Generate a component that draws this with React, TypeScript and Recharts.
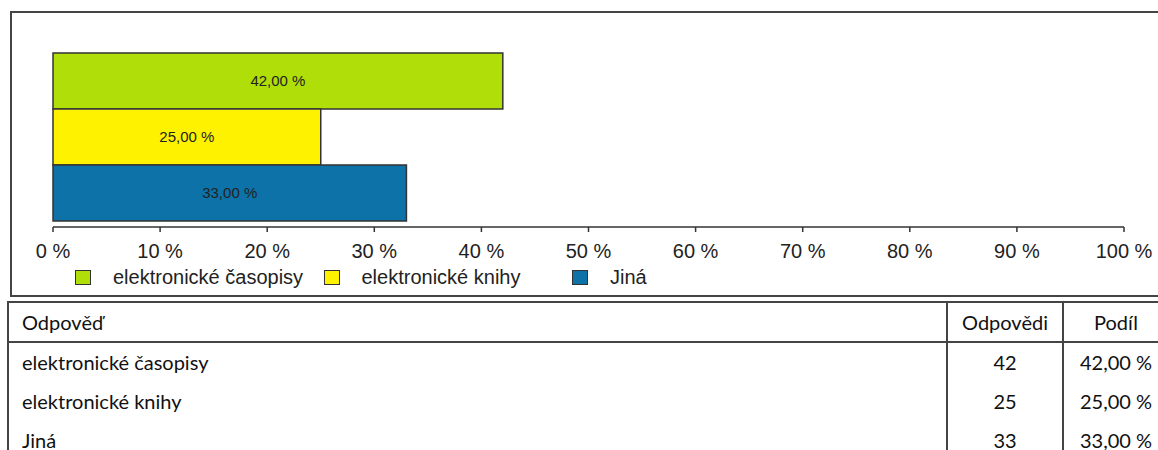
import { Bar, BarChart, LabelList, XAxis, YAxis } from "recharts"

const categories = ["elektronické časopisy", "elektronické knihy", "Jiná"]
const counts = [42, 25, 33]
const shares = [42, 25, 33]
const colors = ["#b0de09", "#fff200", "#0d72a8"]
const xTicks = [0, 10, 20, 30, 40, 50, 60, 70, 80, 90, 100]
const headers = ["Odpověď", "Odpovědi", "Podíl"]

const fmtPct = (v: number) => `${v.toFixed(2).replace(".", ",")} %`

// one category row, one key per answer
const chartData = [
  categories.reduce<Record<string, number | string>>(
    (row, _c, i) => {
      row[`s${i}`] = shares[i]
      return row
    },
    { name: "" }
  ),
]

const sansChart = "'Liberation Sans', Arial, Helvetica, sans-serif"
const sansTable = "Lato, 'Open Sans', sans-serif"

export default function App() {
  return (
    <div
      style={{
        position: "absolute",
        left: 0,
        top: 0,
        width: 1158,
        height: 450,
        overflow: "hidden",
        background: "#fff",
      }}
    >
      {/* chart frame */}
      <div
        style={{
          position: "absolute",
          left: 10,
          top: 11,
          width: 1200,
          height: 284,
          border: "2px solid #444",
          boxSizing: "border-box",
          borderRight: "none",
          height: 286,
        }}
      />
      <div style={{ position: "absolute", left: 0, top: 0, fontFamily: sansChart }}>
        <BarChart
          width={1158}
          height={296}
          data={chartData}
          layout="vertical"
          margin={{ top: 53, right: 34, bottom: 29, left: 53 }}
          barCategoryGap={0}
          barGap={0}
        >
          <XAxis
            type="number"
            domain={[0, 100]}
            ticks={xTicks}
            interval={0}
            height={40}
            tickFormatter={(v: number) => `${v} %`}
            tickSize={5}
            tickMargin={12}
            axisLine={{ stroke: "#333", strokeWidth: 1.5 }}
            tickLine={{ stroke: "#333", strokeWidth: 1.5 }}
            tick={{ fill: "#222", fontSize: 20 }}
          />
          <YAxis type="category" dataKey="name" hide padding={{ top: 0, bottom: 7 }} />
          {categories.map((c, i) => (
            <Bar
              key={c}
              dataKey={`s${i}`}
              name={c}
              fill={colors[i]}
              stroke="#333"
              strokeWidth={1.5}
              isAnimationActive={false}
            >
              <LabelList
                dataKey={`s${i}`}
                position="center"
                formatter={(v: number) => fmtPct(v)}
                fill="#222"
                fontSize={15}
              />
            </Bar>
          ))}
        </BarChart>
      </div>

      {/* legend */}
      <div
        style={{
          position: "absolute",
          left: 75,
          top: 266,
          display: "flex",
          fontFamily: sansChart,
          fontSize: 20,
          color: "#222",
          lineHeight: "22px",
        }}
      >
        {categories.map((c, i) => (
          <div key={c} style={{ width: 248.5, display: "flex", alignItems: "center" }}>
            <span
              style={{
                display: "inline-block",
                width: 16,
                height: 15,
                background: colors[i],
                border: "1.5px solid #333",
                boxSizing: "border-box",
                marginRight: 22,
              }}
            />
            <span>{c}</span>
          </div>
        ))}
      </div>

      {/* table */}
      <div
        style={{
          position: "absolute",
          left: 7,
          top: 301,
          width: 1220,
          height: 200,
          borderTop: "2px solid #444",
          borderLeft: "2px solid #444",
          fontFamily: sansTable,
          fontSize: 20,
          color: "#111",
        }}
      >
        <div style={{ position: "absolute", left: 0, top: 38, width: 1220, height: 2, background: "#444" }} />
        <div style={{ position: "absolute", left: 937, top: 0, width: 2, height: 200, background: "#444" }} />
        <div style={{ position: "absolute", left: 1053, top: 0, width: 2, height: 200, background: "#444" }} />
        <div style={{ position: "absolute", left: 13, top: 0, lineHeight: "38px" }}>{headers[0]}</div>
        <div style={{ position: "absolute", left: 939, width: 114, top: 0, lineHeight: "38px", textAlign: "center" }}>
          {headers[1]}
        </div>
        <div style={{ position: "absolute", left: 1055, width: 104, top: 0, lineHeight: "38px", textAlign: "center" }}>
          {headers[2]}
        </div>
        {categories.map((c, i) => (
          <div key={c}>
            <div style={{ position: "absolute", left: 13, top: 40 + i * 39, lineHeight: "39px" }}>{c}</div>
            <div
              style={{
                position: "absolute",
                left: 939,
                width: 114,
                top: 40 + i * 39,
                lineHeight: "39px",
                textAlign: "center",
              }}
            >
              {counts[i]}
            </div>
            <div
              style={{
                position: "absolute",
                left: 1055,
                width: 104,
                top: 40 + i * 39,
                lineHeight: "39px",
                textAlign: "center",
              }}
            >
              {fmtPct(shares[i])}
            </div>
          </div>
        ))}
      </div>
    </div>
  )
}
